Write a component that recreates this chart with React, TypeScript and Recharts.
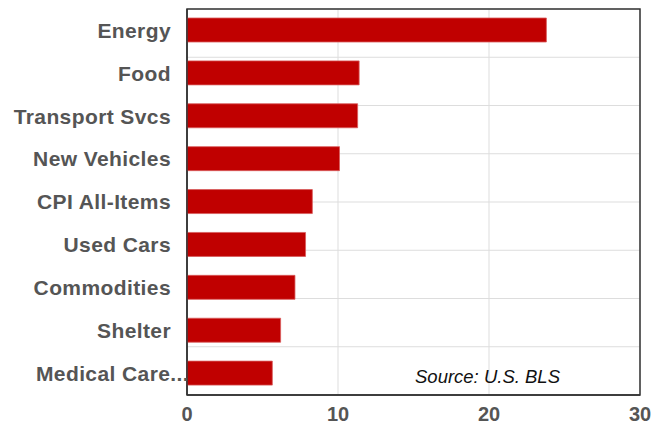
import {
  BarChart,
  Bar,
  XAxis,
  YAxis,
  CartesianGrid,
  ReferenceArea,
} from "recharts";

const categories = [
  "Energy",
  "Food",
  "Transport Svcs",
  "New Vehicles",
  "CPI All-Items",
  "Used Cars",
  "Commodities",
  "Shelter",
  "Medical Care...",
];
const values = [23.8, 11.4, 11.3, 10.1, 8.3, 7.85, 7.15, 6.2, 5.65];
const xTicks = [0, 10, 20, 30];
const rowEdges = [0, 1, 2, 3, 4, 5, 6, 7, 8, 9];

const FONT = "'Liberation Sans', Arial, sans-serif";

function CategoryTick(props: any) {
  const { x, y, payload } = props;
  const label: string = payload.value;
  // the truncated label runs over the axis in the original
  const shift = label.endsWith("...") ? 18 : 0;
  return (
    <text
      x={x + shift}
      y={y}
      dy="0.35em"
      textAnchor="end"
      fontFamily={FONT}
      fontWeight="bold"
      fontSize={21}
      letterSpacing={0.4}
      fill="#555"
    >
      {label}
    </text>
  );
}

export default function App() {
  const data = categories.map((name, i) => ({ name, value: values[i] }));

  return (
    <div style={{ position: "absolute", left: 0, top: 0, width: 666, height: 428 }}>
      <BarChart
        width={666}
        height={428}
        data={data}
        layout="vertical"
        margin={{ top: 9, right: 26, bottom: 0, left: 0 }}
        barSize={24}
      >
        <XAxis
          type="number"
          domain={[0, 30]}
          ticks={xTicks}
          height={33}
          tickLine={false}
          tickSize={0}
          tickMargin={12}
          axisLine={{ stroke: "#333", strokeWidth: 1.5 }}
          tick={{ fontFamily: FONT, fontWeight: "bold", fontSize: 20, fill: "#555" }}
        />
        <YAxis
          type="category"
          dataKey="name"
          width={187}
          tickLine={false}
          tickSize={6}
          tickMargin={10}
          axisLine={{ stroke: "#333", strokeWidth: 1.5 }}
          tick={<CategoryTick />}
        />
        <YAxis
          yAxisId="grid"
          type="number"
          domain={[0, 9]}
          ticks={rowEdges}
          orientation="right"
          width={0}
          tick={<g />}
          axisLine={false}
          tickLine={false}
        />
        <CartesianGrid yAxisId="grid" stroke="#ddd" strokeWidth={1} />
        <Bar
          dataKey="value"
          fill="#c00000"
          stroke="#d85a5a"
          strokeWidth={0.8}
          isAnimationActive={false}
        />
        <ReferenceArea
          x1={0}
          x2={30}
          fill="none"
          stroke="#333"
          strokeWidth={1.5}
          fillOpacity={0}
        />
      </BarChart>
      <div
        style={{
          position: "absolute",
          left: 415,
          top: 366,
          fontFamily: FONT,
          fontStyle: "italic",
          fontSize: 18.5,
          color: "#111",
          whiteSpace: "nowrap",
        }}
      >
        Source: U.S. BLS
      </div>
    </div>
  );
}
